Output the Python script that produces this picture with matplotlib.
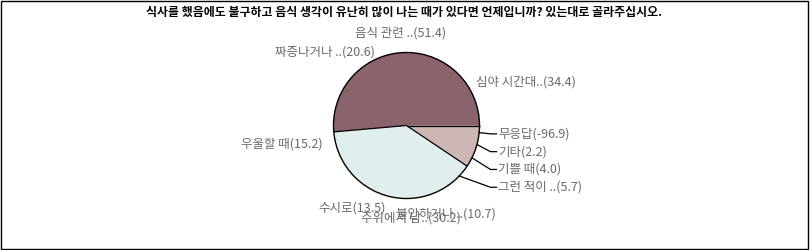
import numpy as np
import matplotlib
matplotlib.use("Agg")
import matplotlib.pyplot as plt
from matplotlib.patches import Wedge, Circle, Rectangle

plt.rcParams["font.family"] = ["Noto Sans CJK KR", "DejaVu Sans"]

title = "식사를 했음에도 불구하고 음식 생각이 유난히 많이 나는 때가 있다면 언제입니까? 있는대로 골라주십시오."

# Responses in the order the slices are laid around the pie
categories = ["무응답", "기타", "기쁠 때", "그런 적이 ..", "불안하거나 ..", "수시로",
              "우울할 때", "짜증나거나 ..", "심야 시간대..", "주위에서 남..", "음식 관련 .."]
values = [-96.9, 2.2, 4.0, 5.7, 10.7, 13.5, 15.2, 20.6, 34.4, 30.2, 51.4]

palette = ["#E0EEEE", "#8B636C", "#CDB7B5"]

W, H = 810, 250
fig = plt.figure(figsize=(W / 100, H / 100), dpi=100)
ax = fig.add_axes([0, 0, 1, 1])
ax.set_xlim(0, W)
ax.set_ylim(H, 0)
ax.axis("off")

cx, cy, r = 406.5, 125.5, 73.0
deg = 3.6          # degrees per percentage point
label_r = 86.0

# running-total slice angles, clockwise from 3 o'clock, wrapping round the ring
cum = np.concatenate([[0.0], np.cumsum(values)])
spans = []
for i in range(len(values)):
    t1 = (cum[i] * deg) % 360
    t2 = (cum[i + 1] * deg) % 360
    if t2 <= t1:
        t2 += 360
    spans.append((t1, t2))
# the final slice closes the ring at the origin
spans[-1] = (360 - values[-1] * deg, 360.0)

colors = [palette[i % len(palette)] for i in range(len(values))]

for i, (t1, t2) in enumerate(spans):
    ax.add_patch(Wedge((cx, cy), r, t1, t2, facecolor=colors[i],
                       edgecolor="none", zorder=2 + i * 0.01))


def top_color(a):
    a = a % 360
    top = None
    for i, (t1, t2) in enumerate(spans):
        if t1 <= a < t2 or t1 <= a + 360 < t2:
            top = i
    return None if top is None else colors[top]


# outline: circle plus radii wherever neighbouring colours differ
edges = sorted({round(t % 360, 4) for s in spans for t in s})
for a in edges:
    if top_color(a - 0.05) != top_color(a + 0.05):
        rad = np.deg2rad(a)
        ax.plot([cx, cx + r * np.cos(rad)], [cy, cy + r * np.sin(rad)],
                color="black", lw=0.9, zorder=3, solid_capstyle="butt")
ax.add_patch(Circle((cx, cy), r, fill=False, edgecolor="black", lw=1.0, zorder=3.1))

label_color = "#6a6a6a"
fs = 9.0
mids = [(t1 + t2) / 2 for t1, t2 in spans]
texts = [f"{c}({v:.1f})" for c, v in zip(categories, values)]

fig.canvas.draw()
renderer = fig.canvas.get_renderer()

# narrow slices: stacked column with leader lines on the right
narrow = [i for i, (t1, t2) in enumerate(spans) if (t2 - t1) < 36]
narrow.sort(key=lambda i: mids[i] % 360)
prev_y = -1e9
for i in narrow:
    m = np.deg2rad(mids[i])
    y = max(cy + label_r * np.sin(m), prev_y + 17.8)
    prev_y = y
    px, py = cx + r * np.cos(m), cy + r * np.sin(m)
    ax.plot([px, cx + 84, cx + 90], [py, y, y], color="black", lw=0.9, zorder=3)
    ax.text(cx + 91.5, y, texts[i], ha="left", va="center", fontsize=fs,
            color=label_color, zorder=4)

# the rest: anchored on a ring, aligned smoothly by direction
for i in range(len(values)):
    if i in narrow:
        continue
    m = np.deg2rad(mids[i])
    c, s = np.cos(m), np.sin(m)
    axp, ayp = cx + label_r * c, cy + label_r * s
    t = ax.text(0, 0, texts[i], ha="left", va="top", fontsize=fs,
                color=label_color, zorder=4)
    bb = t.get_window_extent(renderer)
    w, h = bb.width, bb.height
    t.set_position((axp - w * (1 - c) / 2, ayp - h * (1 - s) / 2))

ax.text(404.5, 12, title, ha="center", va="center", fontsize=8.6, fontweight="bold",
        color="black")

ax.add_patch(Rectangle((0.5, 0.5), 807, 248, fill=False, edgecolor="black", lw=1.0))

fig.savefig("out.png", dpi=100)
